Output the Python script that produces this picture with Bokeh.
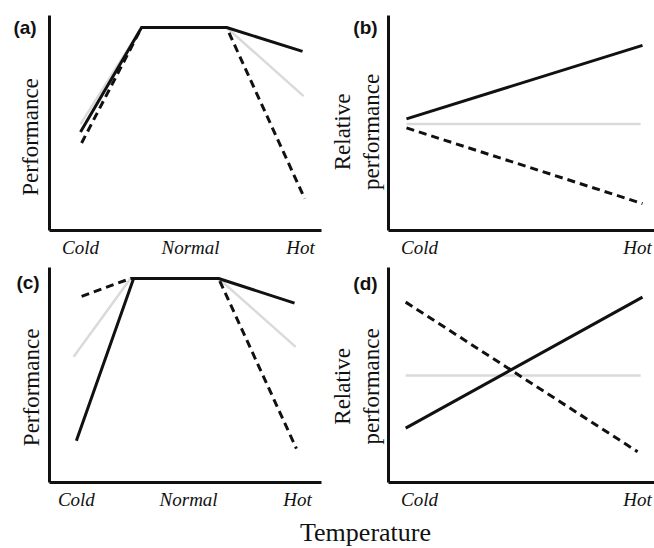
import math
from bokeh.plotting import figure
from bokeh.models import Range1d, FixedTicker, Label
from bokeh.layouts import column, row
from bokeh.embed import file_html
from bokeh.resources import INLINE

# ---- data (left panels: Cold / Normal / Hot) ----
a_solid_x = [1.00, 3.22, 6.31, 9.07]
a_solid_y = [4.58, 9.44, 9.44, 8.33]
a_gray_x = [1.00, 3.22, 6.31, 9.11]
a_gray_y = [4.95, 9.44, 9.44, 6.25]
a_dash_x = [1.04, 3.22, 6.31, 9.15]
a_dash_y = [4.07, 9.44, 9.44, 1.48]

c_solid_x = [0.85, 2.93, 6.02, 8.78]
c_solid_y = [1.94, 9.49, 9.49, 8.34]
c_gray_x = [0.75, 2.82, 6.02, 8.82]
c_gray_y = [5.85, 9.49, 9.49, 6.31]
c_dash_x = [1.04, 2.82, 6.02, 8.85]
c_dash_y = [8.66, 9.49, 9.49, 1.57]

# ---- data (right panels: Cold / Hot) ----
b_solid_x = [0.52, 9.18]
b_solid_y = [5.19, 8.61]
b_gray_x = [0.52, 9.11]
b_gray_y = [4.95, 4.95]
b_dash_x = [0.52, 9.18]
b_dash_y = [4.77, 1.25]

d_solid_x = [0.49, 9.18]
d_solid_y = [2.53, 8.62]
d_gray_x = [0.49, 9.11]
d_gray_y = [4.98, 4.98]
d_dash_x = [0.49, 9.00]
d_dash_y = [8.39, 1.43]

left_ticks_a = [1.0, 5.0, 9.0]
left_ticks_c = [0.85, 4.93, 8.89]
left_tick_labels = ["Cold", "Normal", "Hot"]
right_ticks = [1.0, 9.0]
right_tick_labels = ["Cold", "Hot"]

panel_labels = ["(a)", "(b)", "(c)", "(d)"]
y_title_left = "Performance"
y_title_right = "Relative\nperformance"
x_title = "Temperature"

SERIF = "Liberation Serif"
SANS = "Liberation Sans"
GRAY = "#dadada"
INK = "#111111"


def blank(width, height, bt, bb):
    fh = height - bt - bb
    p = figure(width=width, height=height, output_backend="svg", toolbar_location=None,
               x_range=Range1d(0, width), y_range=Range1d(0, fh),
               x_axis_location=None, y_axis_location=None,
               min_border_left=0, min_border_right=0, min_border_top=bt, min_border_bottom=bb)
    p.xgrid.visible = False
    p.ygrid.visible = False
    p.outline_line_color = None
    p.background_fill_color = "white"
    p.border_fill_color = "white"
    return p


def make_panel(width, height, xr, yr, ticks, labels, bl, bt, br, bb):
    p = figure(width=width, height=height, output_backend="svg", toolbar_location=None,
               x_range=Range1d(*xr), y_range=Range1d(*yr),
               min_border_left=bl, min_border_top=bt, min_border_right=br, min_border_bottom=bb)
    p.outline_line_color = None
    p.xgrid.visible = False
    p.ygrid.visible = False
    p.background_fill_color = "white"
    p.border_fill_color = "white"
    xa = p.xaxis[0]
    xa.ticker = FixedTicker(ticks=ticks)
    xa.major_label_overrides = {t: l for t, l in zip(ticks, labels)}
    xa.major_tick_line_color = None
    xa.minor_tick_line_color = None
    xa.major_tick_out = 0
    xa.major_tick_in = 0
    xa.axis_line_width = 3
    xa.axis_line_color = INK
    xa.major_label_text_font = SERIF
    xa.major_label_text_font_style = "italic"
    xa.major_label_text_font_size = "19px"
    xa.major_label_text_color = INK
    xa.major_label_standoff = 6
    ya = p.yaxis[0]
    ya.ticker = FixedTicker(ticks=[])
    ya.major_tick_line_color = None
    ya.minor_tick_line_color = None
    ya.major_tick_out = 0
    ya.major_tick_in = 0
    ya.major_label_standoff = 0
    ya.major_label_text_font_size = "0px"
    ya.axis_line_width = 3
    ya.axis_line_color = INK
    return p


def add_lines(p, sx, sy, gx, gy, dx, dy):
    p.line(gx, gy, line_color=GRAY, line_width=2.5)
    p.line(dx, dy, line_color=INK, line_width=3, line_dash="8 5")
    p.line(sx, sy, line_color=INK, line_width=3)


def letter(p, x, y, txt):
    p.add_layout(Label(x=x, y=y, text=txt, text_font=SANS, text_font_style="bold",
                       text_font_size="19px", text_align="center", text_baseline="middle",
                       text_color=INK))


def ytitle(p, x, y, txt):
    p.add_layout(Label(x=x, y=y, text=txt, text_font=SERIF, text_font_size="23px",
                       text_align="center", text_baseline="middle", angle=math.pi / 2,
                       text_line_height=1.17, text_color=INK))


LXR = (-0.127, 9.76)
RXR = (-0.14, 9.62)
YR = (0, 10)

# row 1 (frame y 15..231)
la = blank(46, 260, 15, 29)
letter(la, 24.5, 204, panel_labels[0])
ytitle(la, 30, 94, y_title_left)
pa = make_panel(282, 260, LXR, YR, left_ticks_a, left_tick_labels, 3, 15, 7, 29)
add_lines(pa, a_solid_x, a_solid_y, a_gray_x, a_gray_y, a_dash_x, a_dash_y)
lb = blank(57, 260, 15, 29)
letter(lb, 37, 204, panel_labels[1])
ytitle(lb, 28.5, 99, y_title_right)
pb = make_panel(269, 260, RXR, YR, right_ticks, right_tick_labels, 3, 15, 0, 29)
add_lines(pb, b_solid_x, b_solid_y, b_gray_x, b_gray_y, b_dash_x, b_dash_y)

# row 2 (frame y 267..484)
lc = blank(46, 252, 7, 28)
letter(lc, 27.5, 202, panel_labels[2])
ytitle(lc, 31, 96, y_title_left)
pc = make_panel(282, 252, LXR, YR, left_ticks_c, left_tick_labels, 3, 7, 7, 28)
add_lines(pc, c_solid_x, c_solid_y, c_gray_x, c_gray_y, c_dash_x, c_dash_y)
ld = blank(57, 252, 7, 28)
letter(ld, 37, 201, panel_labels[3])
ytitle(ld, 28.5, 97, y_title_right)
pd = make_panel(269, 252, RXR, YR, right_ticks, right_tick_labels, 3, 7, 0, 28)
add_lines(pd, d_solid_x, d_solid_y, d_gray_x, d_gray_y, d_dash_x, d_dash_y)

# x title strip
pt = blank(654, 36, 0, 0)
pt.add_layout(Label(x=365, y=16, text=x_title, text_font=SERIF, text_font_size="26px",
                    text_align="center", text_baseline="alphabetic", text_color=INK))

layout = column(row(la, pa, lb, pb), row(lc, pc, ld, pd), pt)
open("out.html", "w").write(file_html(layout, INLINE))
